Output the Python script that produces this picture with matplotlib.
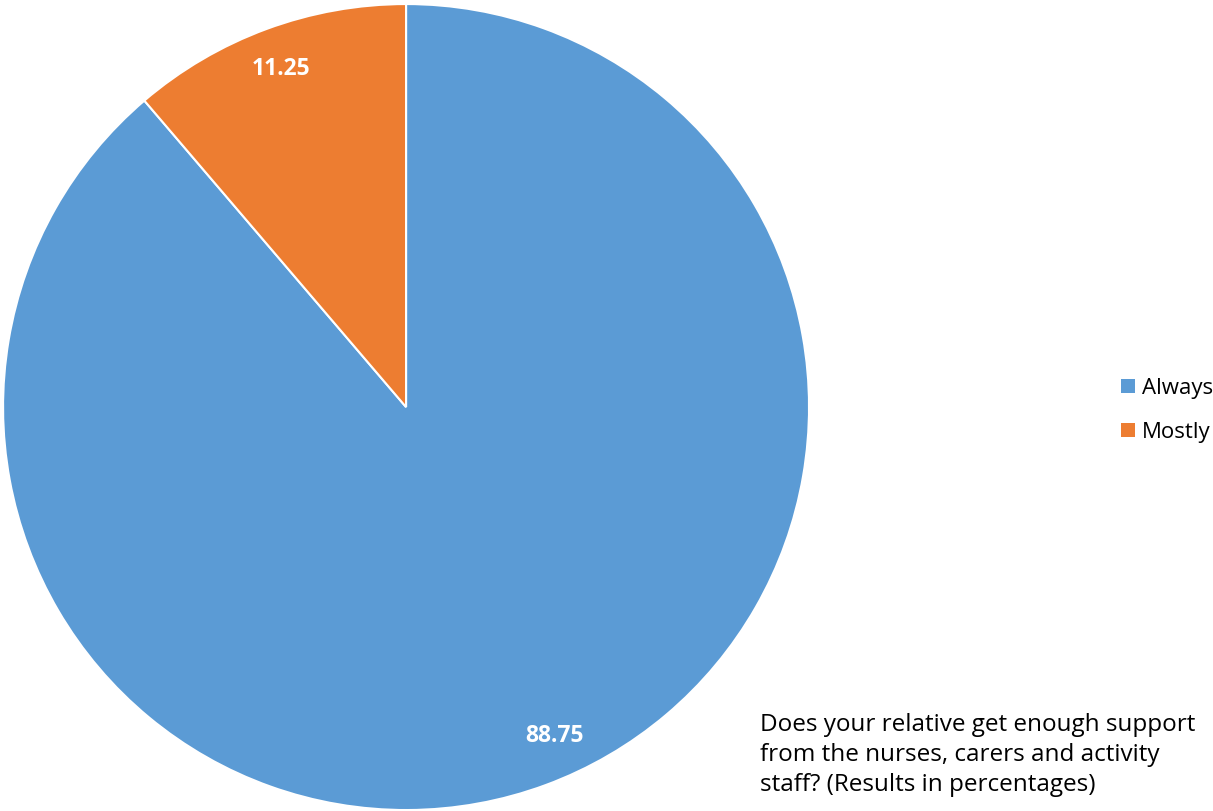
import matplotlib
matplotlib.use("Agg")
import numpy as np
import matplotlib.pyplot as plt
from matplotlib.patches import Patch

plt.rcParams['font.family'] = ['Open Sans', 'DejaVu Sans']

categories = ["Always", "Mostly"]
values = [88.75, 11.25]
colors = ["#5B9BD5", "#ED7D31"]
caption = ("Does your relative get enough support\n"
           "from the nurses, carers and activity\n"
           "staff? (Results in percentages)")

fig = plt.figure(figsize=(12.13, 8.11), dpi=100)
ax = fig.add_axes([0.0025, 0.0012, 0.6645, 0.9938])

wedges, texts = ax.pie(values, colors=colors, startangle=90, counterclock=False,
                       radius=1.0, wedgeprops=dict(edgecolor="white", linewidth=1.5))
# label angle nudges to mimic Excel's best-fit placement
nudge = [4.0, 0.0]
for w, v, d in zip(wedges, values, nudge):
    ang = np.deg2rad((w.theta1 + w.theta2) / 2 + d)
    r = 0.895
    ax.text(r * np.cos(ang), r * np.sin(ang), f"{v:.2f}", ha="center", va="center",
            color="white", fontsize=16.5, fontweight="bold")
ax.set_xlim(-1, 1)
ax.set_ylim(-1, 1)
ax.set_aspect("equal")
ax.axis("off")

handles = [Patch(facecolor=c, edgecolor="none") for c in colors]
fig.legend(handles, categories, loc="center left", bbox_to_anchor=(0.917, 0.494),
           frameon=False, fontsize=16, handlelength=0.6, handleheight=0.6,
           handletextpad=0.35, labelspacing=1.05, borderaxespad=0)

fig.text(760 / 1213, 1 - 755 / 811, caption, ha="left", va="center",
         fontsize=17.5, linespacing=1.32, color="black")

fig.savefig("out.png", dpi=100)
